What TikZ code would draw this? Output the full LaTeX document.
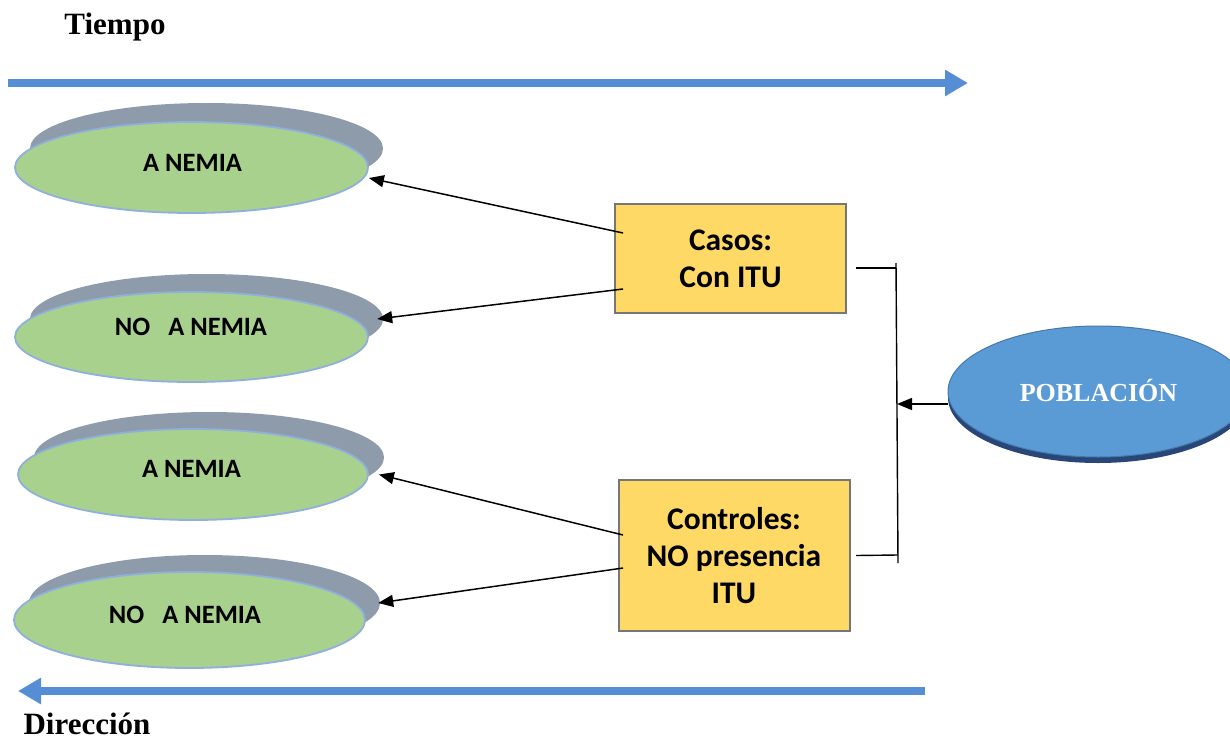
\documentclass[tikz,border=0pt]{standalone}
\usepackage{fontspec}
\setmainfont{Liberation Serif}
\newfontfamily\calibrifont{Carlito}
\usetikzlibrary{shapes.geometric,arrows.meta}
\definecolor{tblue}{RGB}{85,142,213}
\definecolor{egreen}{RGB}{169,209,142}
\definecolor{eborder}{RGB}{143,175,220}
\definecolor{eshadow}{RGB}{142,155,171}
\definecolor{byellow}{RGB}{255,217,102}
\definecolor{bborder}{RGB}{118,118,118}
\definecolor{pfill}{RGB}{91,155,213}
\definecolor{pborder}{RGB}{70,120,170}
\definecolor{pshadow}{RGB}{40,70,120}
\tikzset{
  greenell/.style={ellipse,fill=egreen,draw=eborder,line width=1.8pt,inner sep=0pt},
  shadowell/.style={ellipse,fill=eshadow,inner sep=0pt},
  elbl/.style={font=\calibrifont\bfseries\fontsize{26.5}{30}\selectfont,inner sep=0pt},
  ybox/.style={rectangle,fill=byellow,draw=bborder,line width=2pt,align=center,
    font=\calibrifont\bfseries\fontsize{31.5}{37}\selectfont,inner sep=0pt},
  conn/.style={line width=1.5pt,-{Triangle[length=15pt,width=12pt]}},
  plain/.style={line width=1.4pt},
  timearrow/.style={draw=tblue,line width=8pt,-{Triangle[length=23pt,width=25pt]}},
  titletext/.style={font=\bfseries\fontsize{31}{36}\selectfont,inner sep=0pt}
}
\begin{document}
\begin{tikzpicture}[x=1pt,y=-1pt]
\useasboundingbox (0,0) rectangle (1230,741);
\clip (0,0) rectangle (1230,741);
\fill[white] (0,0) rectangle (1230,741);

% titles
\node[titletext] (tiempo) at (115,27) {Tiempo};
\node[titletext] (direccion) at (87,724) {Dirección};

% time arrows
\coordinate (ta) at (8,83);
\coordinate (tb) at (968,83);
\draw[timearrow] (ta) -- (tb);
\coordinate (da) at (925,691);
\coordinate (db) at (18,691);
\draw[timearrow] (da) -- (db);

% ellipses with shadows
\node[shadowell,minimum width=353pt,minimum height=91pt] (s1) at (206.5,148.5) {};
\node[greenell,minimum width=353pt,minimum height=91pt] (g1) at (191.5,167.5) {};
\node[elbl] (t1) at (192.5,162.5) {A NEMIA};

\node[shadowell,minimum width=353pt,minimum height=90pt] (s2) at (206.5,319) {};
\node[greenell,minimum width=353pt,minimum height=90pt] (g2) at (191.5,337) {};
\node[elbl] (t2) at (191,326.5) {NO\ \ \ A NEMIA};

\node[shadowell,minimum width=350pt,minimum height=91pt] (s3) at (209,457.5) {};
\node[greenell,minimum width=350pt,minimum height=91pt] (g3) at (193,474.5) {};
\node[elbl] (t3) at (191.5,468.5) {A NEMIA};

\node[shadowell,minimum width=351pt,minimum height=96pt] (s4) at (204.5,603) {};
\node[greenell,minimum width=351pt,minimum height=96pt] (g4) at (189.5,620) {};
\node[elbl] (t4) at (185,615) {NO\ \ \ A NEMIA};

% boxes
\node[ybox,minimum width=231pt,minimum height=109pt] (casos) at (730.5,258.5) {Casos:\\Con ITU};
\node[ybox,minimum width=231pt,minimum height=151pt] (ctrl) at (734,555.5) {Controles:\\NO presencia\\ITU};

% connectors to ellipses
\draw[conn] ([xshift=9pt,yshift=25.5pt]casos.west) -- ([yshift=-10.5pt]g1.east);
\draw[conn] ([xshift=9pt,yshift=-30.5pt]casos.west) -- ([xshift=-6pt]s2.east);
\draw[conn] ([xshift=5.5pt,yshift=20.5pt]ctrl.west) -- ([xshift=10pt]g3.east);
\draw[conn] ([xshift=5.5pt,yshift=-12.5pt]ctrl.west) -- ([xshift=-2pt]s4.east);

% poblacion
\node[ellipse,fill=pshadow,inner sep=0pt,minimum width=300pt,minimum height=131pt] (pshad) at (1098,397.5) {};
\node[ellipse,fill=pfill,draw=pborder,line width=1pt,inner sep=0pt,minimum width=300pt,minimum height=131pt] (pop) at (1098,391.5) {};
\node[font=\bfseries\fontsize{26}{30}\selectfont,text=white,inner sep=0pt] (poptext) at (1098.5,390) {POBLACIÓN};

% bracket
\coordinate (brtop) at (896,263);
\coordinate (brbot) at (898,563);
\coordinate (br1) at (896,268);
\coordinate (br2) at (897.8,555);
\coordinate (brmid) at (897,404);
\draw[plain] (brtop) -- (brbot);
\draw[plain] ([xshift=9pt,yshift=-9.5pt]casos.east) -- (br1);
\draw[plain] ([xshift=5.5pt]ctrl.east) -- (br2);
\draw[conn] ([yshift=-12.5pt]pop.west) -- (brmid);
\end{tikzpicture}
\end{document}
